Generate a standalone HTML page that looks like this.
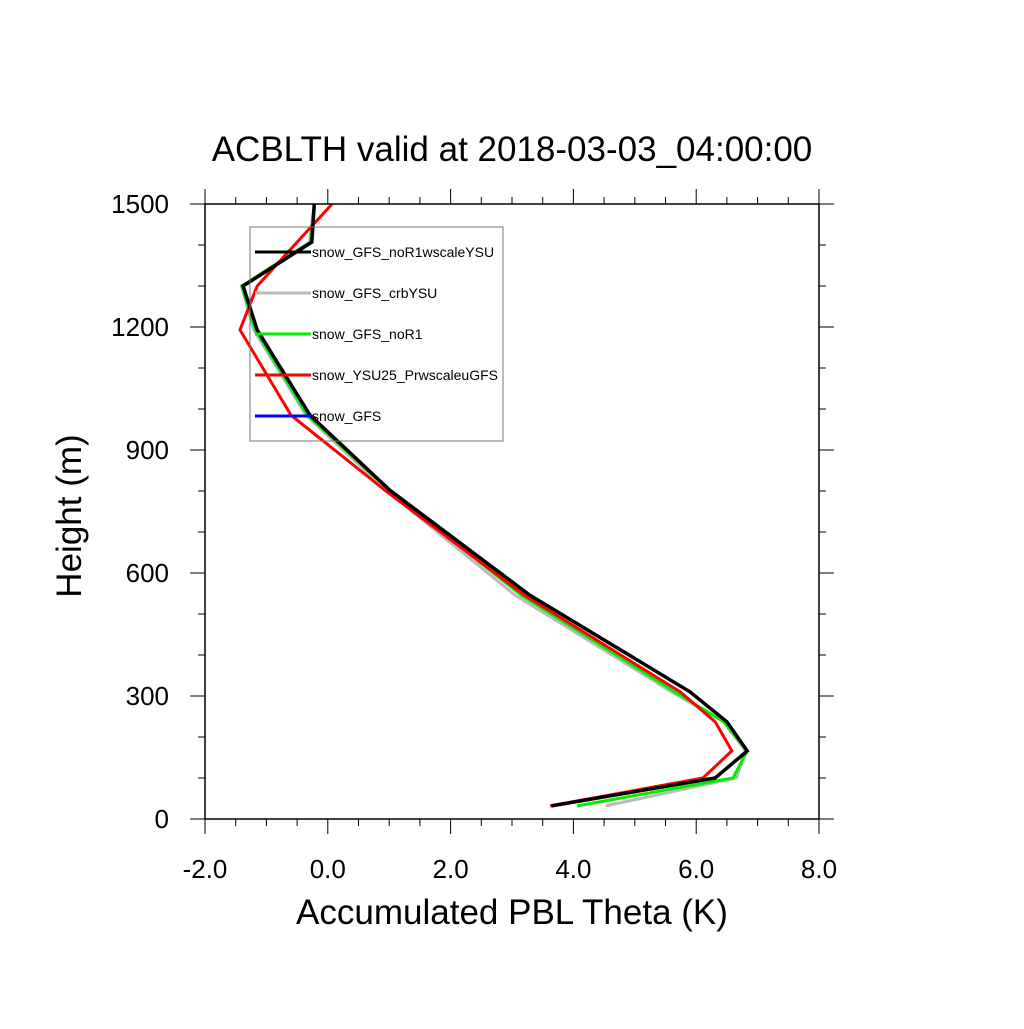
<!DOCTYPE html>
<html><head><meta charset="utf-8"><style>
body{margin:0;background:#fff}
svg text{font-family:"Liberation Sans",sans-serif}
</style></head><body>
<svg id="chart" width="1024" height="1024" xmlns="http://www.w3.org/2000/svg">
<rect width="1024" height="1024" fill="#fff"/>
<text x="512" y="161" font-size="35" text-anchor="middle">ACBLTH valid at 2018-03-03_04:00:00</text>
<g id="axes"></g>
<g id="series"></g>
<rect x="205" y="204" width="614" height="615" fill="none" stroke="#000" stroke-width="1.5"/>
<g id="legend"></g>
<text x="512" y="924" font-size="35" text-anchor="middle">Accumulated PBL Theta (K)</text>
<text transform="translate(81,516) rotate(-90)" font-size="35" text-anchor="middle">Height (m)</text>
</svg>
<script>
const heights = [32, 100, 166, 237, 310, 546, 802, 985, 1193, 1300, 1407, 1500];
const seriesNames = ["snow_GFS_noR1wscaleYSU","snow_GFS_crbYSU","snow_GFS_noR1","snow_YSU25_PrwscaleuGFS","snow_GFS"];
const seriesColors = ["#000000","#bbbbbb","#00ee00","#ff0000","#0000ff"];
const blackVals = [3.64, 6.31, 6.83, 6.50, 5.90, 3.29, 1.01, -0.29, -1.15, -1.38, -0.26, -0.22];
const grayVals  = [4.53, 6.65, 6.80, 6.45, 5.60, 3.05, 0.95, -0.35, -1.20, -1.40, -0.30, -0.22];
const greenVals = [4.06, 6.60, 6.83, 6.45, 5.65, 3.15, 1.00, -0.33, -1.18, -1.40, -0.28, -0.22];
const redVals   = [3.62, 6.11, 6.58, 6.31, 5.74, 3.20, 0.93, -0.60, -1.43, -1.15, -0.50, 0.07];
const blueVals  = [4.53, 6.66, 6.81, 6.46, 5.61, 3.04, 0.94, -0.36, -1.21, -1.41, -0.30, -0.22];
const xTicks = [-2, 0, 2, 4, 6, 8];
const xTickLabels = ["-2.0","0.0","2.0","4.0","6.0","8.0"];
const yTicks = [0, 300, 600, 900, 1200, 1500];
const yTickLabels = ["0","300","600","900","1200","1500"];

const NS="http://www.w3.org/2000/svg";
const X0=205,X1=819,Y0=819,Y1=204,xmin=-2,xmax=8,ymin=0,ymax=1500;
function xs(v){return X0+(v-xmin)/(xmax-xmin)*(X1-X0);}
function ys(v){return Y0-(v-ymin)/(ymax-ymin)*(Y0-Y1);}
function mk(tag,attrs,parent){const e=document.createElementNS(NS,tag);for(const k in attrs)e.setAttribute(k,attrs[k]);parent.appendChild(e);return e;}
const axes=document.getElementById('axes');
for(let v=xmin;v<=xmax+1e-9;v+=0.5){
  const major=Math.abs(v/2-Math.round(v/2))<1e-9;
  const L=major?15:7,x=xs(v);
  const t1=mk('line',{x1:x,y1:Y0,x2:x,y2:Y0+L,stroke:'#000','stroke-width':1},axes);
  
  
  const t2=mk('line',{x1:x,y1:Y1,x2:x,y2:Y1-L,stroke:'#000','stroke-width':1},axes);
  
  
}
for(let v=ymin;v<=ymax+1e-9;v+=100){
  const major=v%300===0;
  const L=major?15:7,y=ys(v);
  const t1=mk('line',{x1:X0,y1:y,x2:X0-L,y2:y,stroke:'#000','stroke-width':1},axes);
  
  
  const t2=mk('line',{x1:X1,y1:y,x2:X1+L,y2:y,stroke:'#000','stroke-width':1},axes);
  
  
}
xTicks.forEach((v,i)=>{
  const t=mk('text',{x:xs(v),y:878,'font-size':26,'text-anchor':'middle'},axes);
  t.textContent=xTickLabels[i];
  
  
});
yTicks.forEach((v,i)=>{
  const t=mk('text',{x:169,y:ys(v)+9,'font-size':26,'text-anchor':'end'},axes);
  t.textContent=yTickLabels[i];
  
  
});
const sg=document.getElementById('series');
const order=[[blueVals,4,2],[grayVals,1,3],[greenVals,2,3],[redVals,3,3],[blackVals,0,3.5]];
order.forEach(([vals,idx,w])=>{
  const pts=vals.map((v,i)=>xs(v).toFixed(1)+','+ys(heights[i]).toFixed(1)).join(' ');
  const p=mk('polyline',{points:pts,fill:'none',stroke:seriesColors[idx],'stroke-width':w,'stroke-linejoin':'miter'},sg);
  
  
});
const lg=document.getElementById('legend');
const box=mk('rect',{x:250,y:227,width:253,height:214,fill:'none',stroke:'#777','stroke-width':1},lg);


seriesNames.forEach((n,i)=>{
  const y=252+i*41;
  const l=mk('line',{x1:255,y1:y,x2:311,y2:y,stroke:seriesColors[i],'stroke-width':3},lg);
  
  
  const t=mk('text',{x:312,y:y+5,'font-size':14},lg);
  t.textContent=n;
  
  
});
</script>
</body></html>
